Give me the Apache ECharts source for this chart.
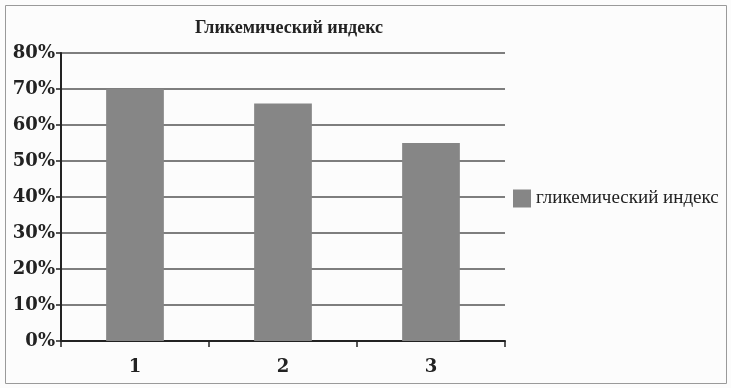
<!DOCTYPE html>
<html>
<head>
<meta charset="utf-8">
<script src="https://cdn.jsdelivr.net/npm/echarts@6/dist/echarts.min.js"></script>
<style>
html,body{margin:0;padding:0;background:#fcfcfc;}
#c{width:731px;height:388px;}
</style>
</head>
<body>
<div id="c"></div>
<script>
var categories = ['1', '2', '3'];
var values = [70, 66, 55];
var seriesName = 'гликемический индекс';
var titleText = 'Гликемический индекс';

var chart = echarts.init(document.getElementById('c'), null, {renderer: 'canvas'});
chart.setOption({
  backgroundColor: '#fcfcfc',
  animation: false,
  title: {
    text: titleText,
    left: 284, top: 14, textAlign: 'center',
    textStyle: {fontFamily: 'Liberation Serif', fontSize: 18, fontWeight: 'bold', color: '#222'}
  },
  graphic: [{
    type: 'rect', silent: true,
    shape: {x: 5.5, y: 5.5, width: 721, height: 378},
    style: {fill: 'none', stroke: '#9a9a9a', lineWidth: 1}
  }],
  legend: {
    left: 508, top: 184, orient: 'vertical',
    itemWidth: 18, itemHeight: 18, itemGap: 4, icon: 'rect',
    textStyle: {fontFamily: 'Liberation Serif', fontSize: 19, color: '#222'},
    data: [seriesName]
  },
  grid: {left: 61, right: 226, top: 53, bottom: 47},
  xAxis: {
    type: 'category', data: categories,
    axisLine: {lineStyle: {color: '#222', width: 2}},
    axisTick: {show: true, alignWithLabel: false, length: 6, lineStyle: {color: '#222', width: 1.5}},
    axisLabel: {margin: 17, fontFamily: 'DejaVu Serif', fontWeight: 'bold', fontSize: 18, color: '#222'}
  },
  yAxis: {
    type: 'value', min: 0, max: 80, interval: 10,
    axisLine: {show: true, lineStyle: {color: '#222', width: 2}},
    axisTick: {show: true, length: 5, lineStyle: {color: '#222', width: 1.5}},
    axisLabel: {formatter: '{value}%', margin: 6, fontFamily: 'DejaVu Serif', fontWeight: 'bold', fontSize: 18, color: '#222'},
    splitLine: {lineStyle: {color: '#555', width: 1.5}}
  },
  series: [{
    name: seriesName, type: 'bar', data: values,
    barWidth: '39%',
    itemStyle: {color: '#868686'}
  }]
});
</script>
</body>
</html>
